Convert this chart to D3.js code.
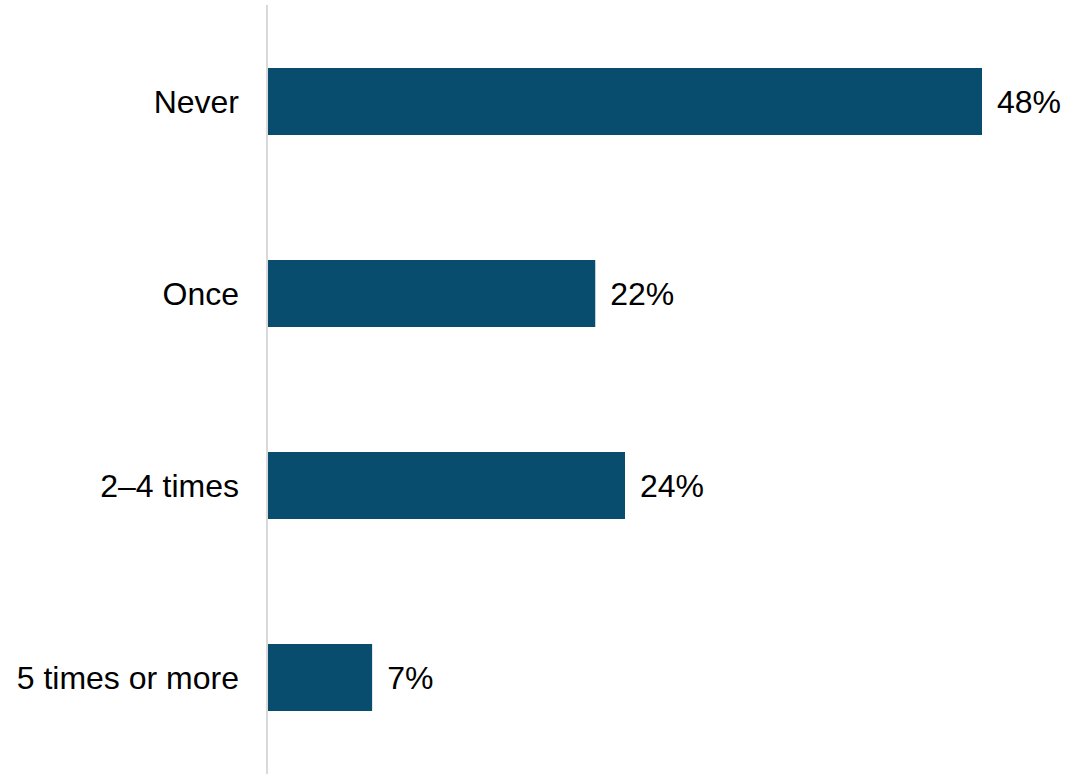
<!DOCTYPE html>
<html><head><meta charset="utf-8">
<script src="https://cdn.jsdelivr.net/npm/d3@7"></script>
<style>html,body{margin:0;padding:0;background:#fff;}svg{display:block;}</style>
</head><body><svg id="c" width="1066" height="774"></svg>
<script>
const categories = ["Never", "Once", "2–4 times", "5 times or more"];
const values = [48, 22, 24, 7];
const valueLabels = ["48%", "22%", "24%", "7%"];

const svg = d3.select("#c");
const x0 = 268;
const x = d3.scaleLinear().domain([0, 48]).range([x0, 982]);
const y = d3.scaleBand().domain(categories).range([5.5, 773.5]).paddingInner(0.651).paddingOuter(0.3255);

svg.append("line").attr("x1", 267).attr("x2", 267).attr("y1", 5).attr("y2", 774)
  .attr("stroke", "#d9d9d9").attr("stroke-width", 2);

svg.selectAll("rect.bar").data(values).enter().append("rect")
  .attr("x", x(0)).attr("y", (d, i) => y(categories[i]))
  .attr("width", d => x(d) - x(0)).attr("height", y.bandwidth())
  .attr("fill", "#084c6e");

const font = "'Liberation Sans', Arial, sans-serif";
svg.selectAll("text.cat").data(categories).enter().append("text")
  .attr("x", 239).attr("y", d => y(d) + y.bandwidth() / 2)
  .attr("dy", "0.35em").attr("text-anchor", "end")
  .style("font-family", font).style("font-size", "32px").attr("fill", "#000")
  .text(d => d);

svg.selectAll("text.val").data(values).enter().append("text")
  .attr("x", d => x(d) + 15).attr("y", (d, i) => y(categories[i]) + y.bandwidth() / 2)
  .attr("dy", "0.35em")
  .style("font-family", font).style("font-size", "32px").attr("fill", "#000")
  .text((d, i) => valueLabels[i]);
</script></body></html>
